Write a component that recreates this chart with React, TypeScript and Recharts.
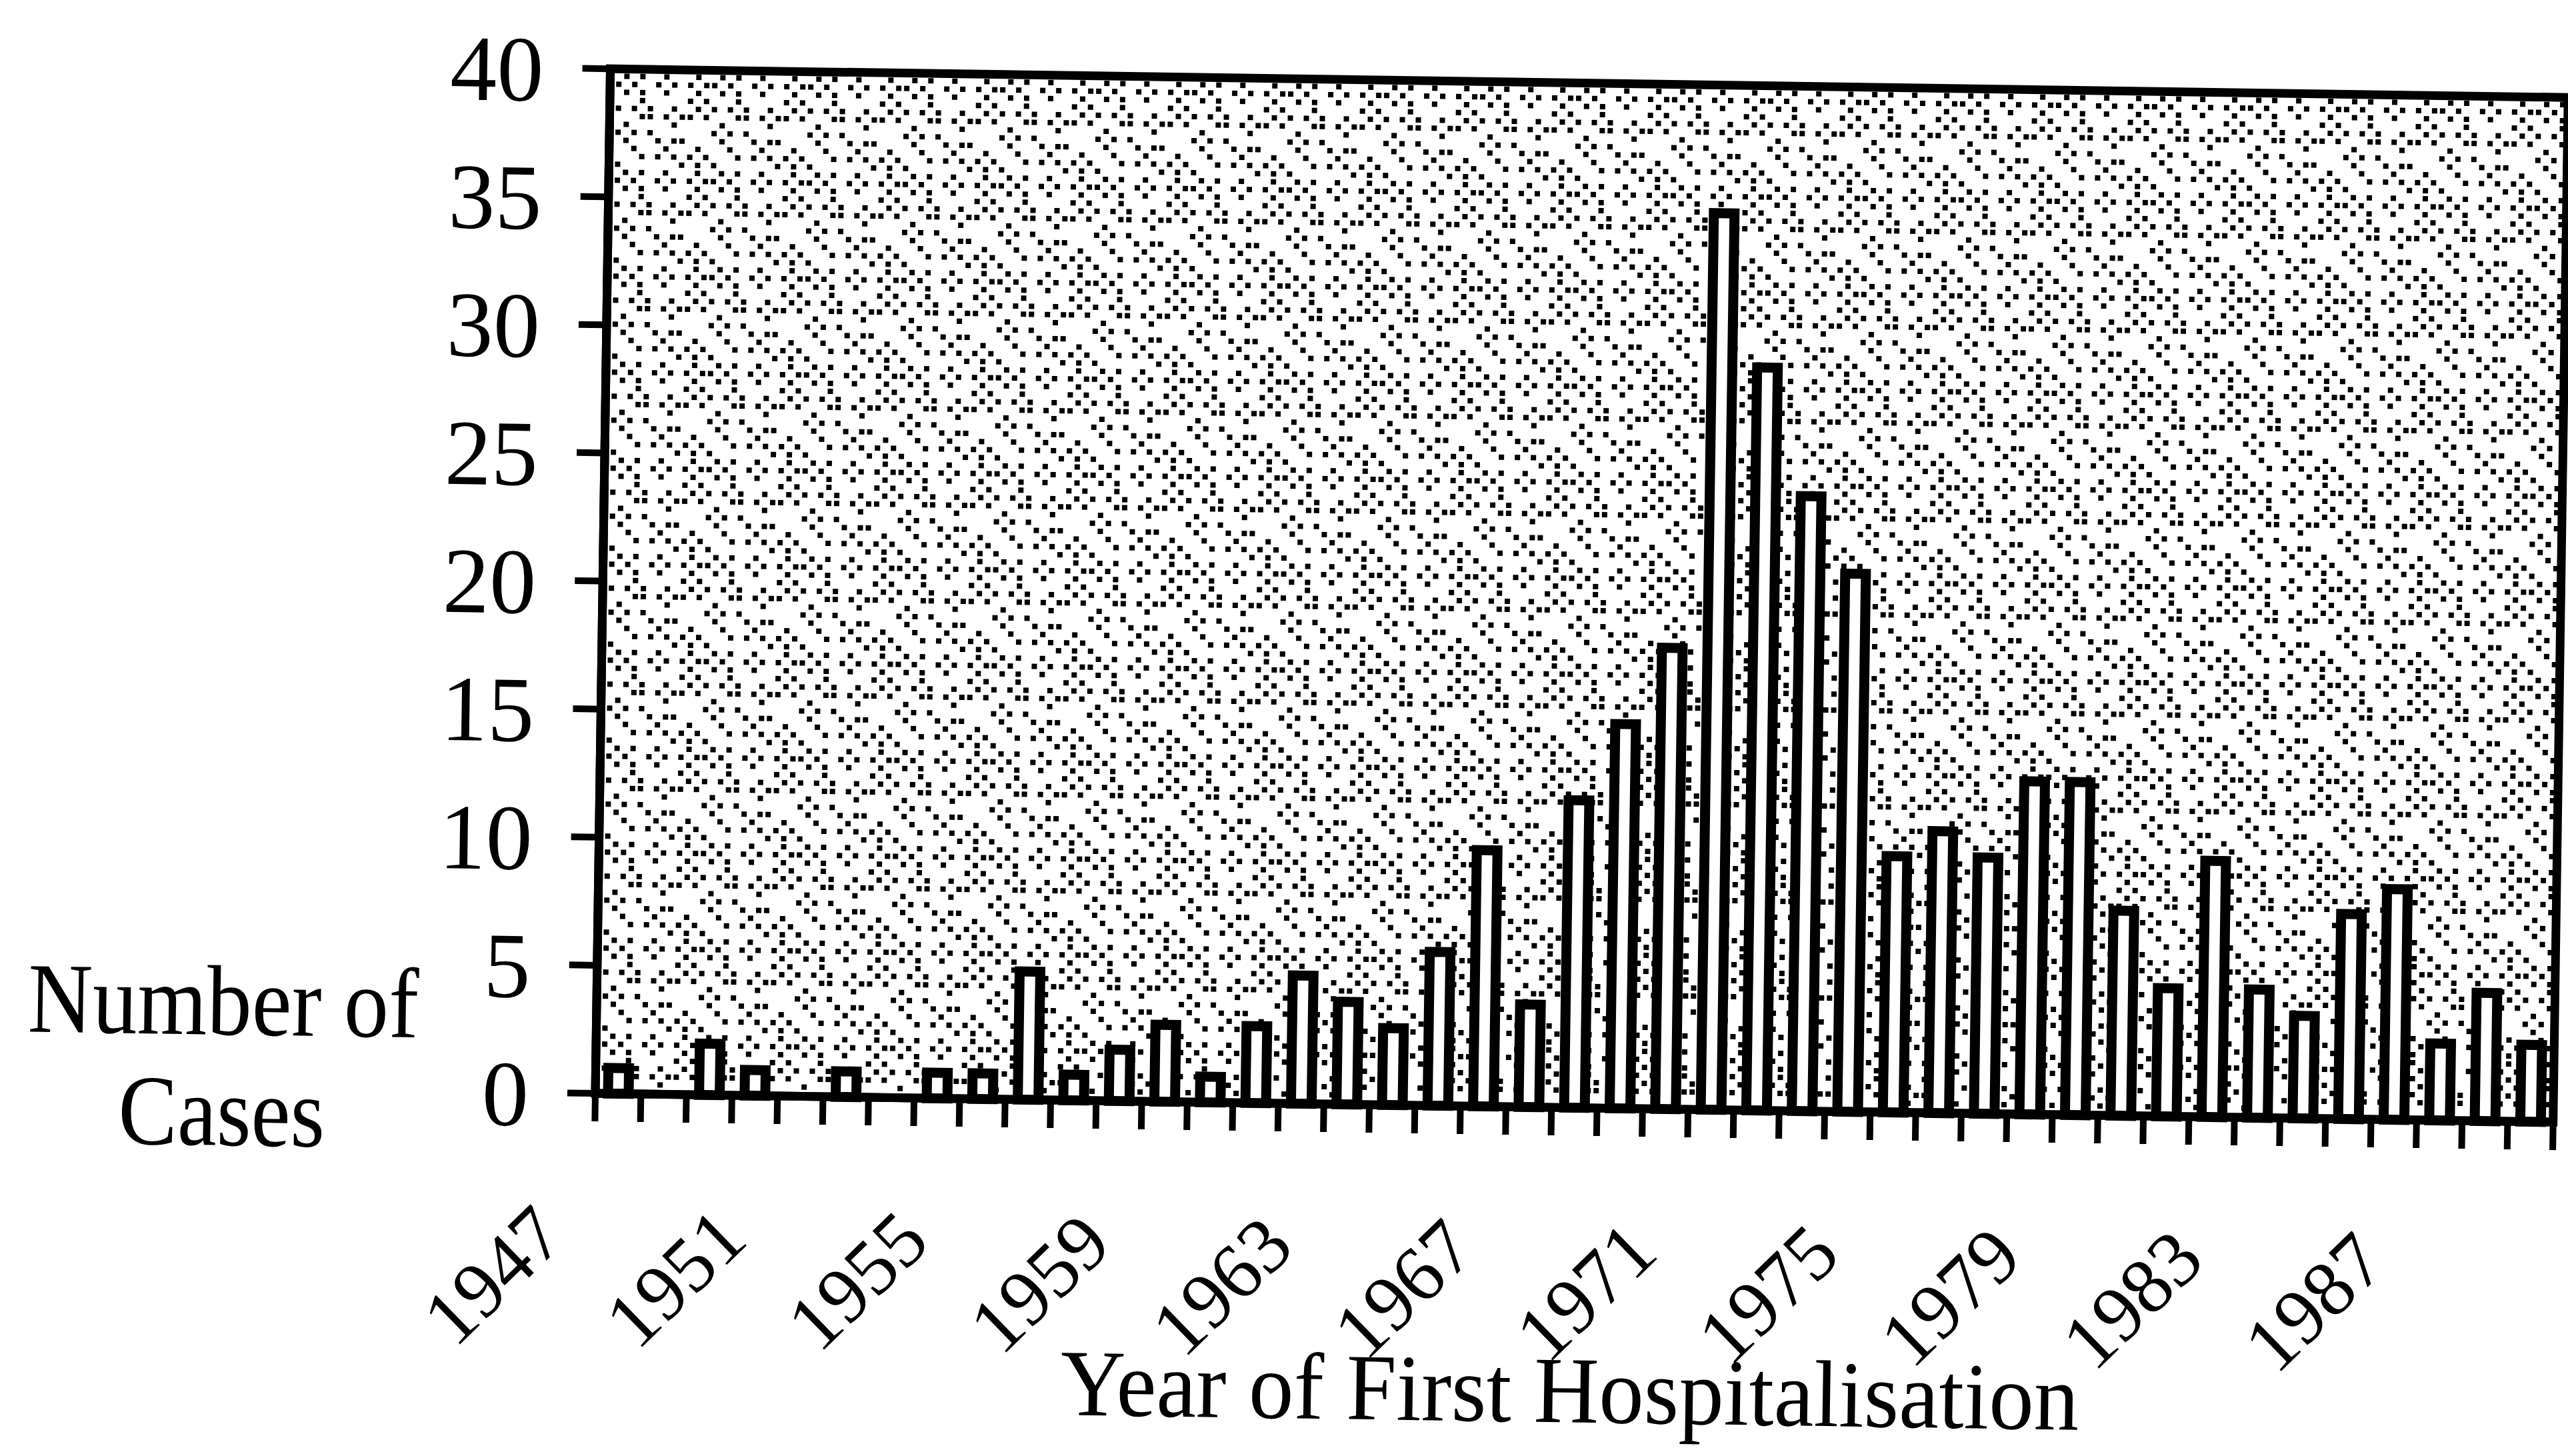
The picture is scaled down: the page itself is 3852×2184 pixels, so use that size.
import { BarChart, Bar, XAxis, YAxis, CartesianGrid, ReferenceArea } from 'recharts';

const years = [
  1947, 1948, 1949, 1950, 1951, 1952, 1953, 1954, 1955, 1956, 1957, 1958, 1959, 1960, 1961,
  1962, 1963, 1964, 1965, 1966, 1967, 1968, 1969, 1970, 1971, 1972, 1973, 1974, 1975, 1976,
  1977, 1978, 1979, 1980, 1981, 1982, 1983, 1984, 1985, 1986, 1987, 1988, 1989,
];
const cases = [
  1, 0, 2, 1, 0, 1, 0, 1, 1, 5, 1, 2, 3, 1, 3,
  5, 4, 3, 6, 10, 4, 12, 15, 18, 35, 29, 24, 21, 10, 11,
  10, 13, 13, 8, 5, 10, 5, 4, 8, 9, 3, 5, 3,
];
const labelYears = [1947, 1951, 1955, 1959, 1963, 1967, 1971, 1975, 1979, 1983, 1987];
const yTicks = [0, 5, 10, 15, 20, 25, 30, 35, 40];

const data = years.map((year, i) => ({ year, cases: cases[i] }));
// tick marks sit on the edges between years, not under the bars
const edges = [...years.map((y) => y - 0.5), years[years.length - 1] + 0.5];

const FONT = '"Liberation Serif", "Times New Roman", serif';

// halftone-ish stipple used for the plot background (grid cells of 12px)
const STIPPLE = [
  [0, 0], [2, 0], [1, 1], [0, 2], [2, 2], [6, 0], [5, 1], [7, 1], [6, 2], [10, 1], [9, 2],
  [11, 2], [10, 3], [3, 1], [4, 3], [3, 4], [5, 4], [4, 5], [5, 6], [6, 7], [7, 4], [8, 5],
  [10, 5], [9, 6], [8, 7], [10, 7], [11, 5], [1, 6], [0, 7], [2, 7], [1, 8], [3, 8], [1, 9],
  [0, 10], [2, 10], [1, 11], [4, 9], [6, 9], [5, 10], [4, 11], [6, 11], [9, 9], [8, 10],
  [10, 10], [9, 11], [11, 8], [7, 2], [3, 10],
];

function YearTick({ x, y, payload }: any) {
  const year = payload.value + 0.5;
  if (!labelYears.includes(year)) return <g />;
  const ax = x - 38;
  const ay = y + 178;
  return (
    <text
      x={ax}
      y={ay}
      transform={`rotate(-45, ${ax}, ${ay})`}
      textAnchor="end"
      fontFamily={FONT}
      fontSize={118}
      fill="#000"
    >
      {year}
    </text>
  );
}

export default function App() {
  return (
    <div
      style={{
        position: 'absolute',
        left: 0,
        top: 0,
        width: 3852,
        height: 2184,
        background: '#fff',
        transform: 'rotate(0.84deg)',
        transformOrigin: '893px 1640px',
      }}
    >
      <BarChart
        width={3852}
        height={2184}
        data={data}
        margin={{ top: 103, right: 22, bottom: 0, left: 0 }}
      >
        <defs>
          <pattern id="stipple" patternUnits="userSpaceOnUse" width={144} height={144}>
            {STIPPLE.map(([c, r], i) => (
              <rect key={i} x={c * 12 + 2} y={r * 12 + 2} width={8} height={8} fill="#000" />
            ))}
          </pattern>
        </defs>
        <CartesianGrid horizontal={false} vertical={false} fill="url(#stipple)" />
        <XAxis
          dataKey="year"
          type="number"
          domain={[edges[0], edges[edges.length - 1]]}
          ticks={edges}
          interval={0}
          height={544}
          tickSize={42}
          tickMargin={0}
          tick={<YearTick />}
          axisLine={{ stroke: '#000', strokeWidth: 13 }}
          tickLine={{ stroke: '#000', strokeWidth: 10 }}
        />
        <YAxis
          domain={[0, 40]}
          ticks={yTicks}
          interval={0}
          width={893}
          tickSize={42}
          tickMargin={58}
          tick={{ fill: '#000', fontSize: 140, fontFamily: FONT }}
          axisLine={{ stroke: '#000', strokeWidth: 13 }}
          tickLine={{ stroke: '#000', strokeWidth: 10 }}
        />
        <Bar
          dataKey="cases"
          fill="#fff"
          stroke="#000"
          strokeWidth={15}
          barSize={31}
          isAnimationActive={false}
        />
        <ReferenceArea
          x1={edges[0]}
          x2={edges[edges.length - 1]}
          y1={0}
          y2={40}
          fill="none"
          fillOpacity={0}
          stroke="#000"
          strokeWidth={13}
          ifOverflow="visible"
        />
      </BarChart>
      <svg
        width={3852}
        height={2184}
        style={{ position: 'absolute', left: 0, top: 0, pointerEvents: 'none' }}
      >
        <text
          x={40}
          y={1560}
          fontFamily={FONT}
          fontSize={150}
          textLength={586}
          lengthAdjust="spacingAndGlyphs"
          fill="#000"
        >
          Number of
        </text>
        <text
          x={333}
          y={1726}
          textAnchor="middle"
          fontFamily={FONT}
          fontSize={150}
          textLength={310}
          lengthAdjust="spacingAndGlyphs"
          fill="#000"
        >
          Cases
        </text>
        <text
          x={2361}
          y={2112}
          textAnchor="middle"
          fontFamily={FONT}
          fontSize={142}
          textLength={1528}
          lengthAdjust="spacingAndGlyphs"
          fill="#000"
        >
          Year of First Hospitalisation
        </text>
      </svg>
    </div>
  );
}
